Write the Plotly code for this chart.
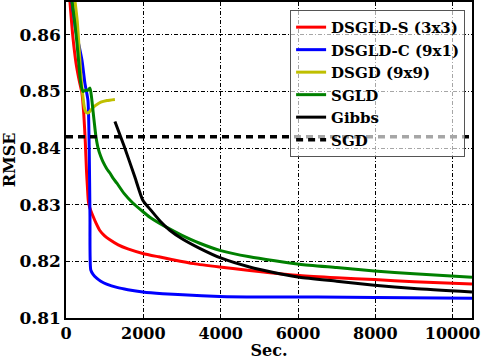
import plotly.graph_objects as go

# DSGLD-S (3x3)
dsgld_s_x = [100, 180, 260, 340, 413, 460, 500, 530, 555, 580, 619, 697, 780, 870, 1000, 1135, 1350, 1600, 1987, 2400, 2760, 3300, 3974, 4750, 6039, 7000, 7974, 9000, 10500]
dsgld_s_y = [0.866, 0.8595, 0.855, 0.852, 0.8497, 0.8460, 0.8410, 0.8360, 0.8330, 0.8305, 0.8294, 0.8280, 0.8267, 0.8255, 0.8245, 0.8238, 0.8229, 0.8222, 0.8214, 0.8208, 0.8203, 0.8196, 0.8190, 0.8184, 0.8175, 0.8171, 0.8168, 0.8164, 0.8160]

# DSGLD-C (9x1)
dsgld_c_x = [150, 260, 340, 413, 490, 568, 600, 620, 640, 700, 800, 900, 1050, 1316, 1600, 1987, 2500, 3020, 3974, 5000, 6500, 8000, 10500]
dsgld_c_y = [0.866, 0.8605, 0.858, 0.8555, 0.8514, 0.8484, 0.840, 0.828, 0.8185, 0.8177, 0.8170, 0.8165, 0.8160, 0.8154, 0.8150, 0.8146, 0.8143, 0.8141, 0.8138, 0.8137, 0.8137, 0.8136, 0.8135]

# DSGD (9x9)
dsgd_x = [232, 290, 340, 390, 439, 480, 520, 570, 619, 680, 740, 800, 900, 1058, 1265]
dsgd_y = [0.866, 0.8625, 0.8575, 0.8525, 0.8490, 0.8470, 0.8463, 0.8462, 0.8465, 0.8470, 0.8474, 0.8477, 0.8481, 0.8484, 0.8486]

# SGLD
sgld_x = [155, 230, 284, 330, 380, 440, 500, 560, 620, 660, 700, 740, 775, 830, 900, 955, 1050, 1135, 1216, 1316, 1500, 1729, 1950, 2168, 2606, 3000, 3458, 4000, 4748, 5400, 6039, 7000, 7974, 9000, 10500]
sgld_y = [0.866, 0.862, 0.8585, 0.855, 0.8515, 0.8500, 0.8502, 0.8502, 0.8506, 0.8490, 0.8465, 0.8440, 0.8420, 0.8400, 0.8385, 0.8376, 0.8364, 0.8356, 0.8347, 0.8338, 0.8320, 0.8303, 0.8290, 0.8278, 0.8260, 0.8246, 0.8232, 0.8219, 0.8208, 0.8201, 0.8195, 0.8189, 0.8183, 0.8178, 0.8172]

# Gibbs
gibbs_x = [1265, 1500, 1781, 1987, 2200, 2450, 2684, 3000, 3458, 4000, 4748, 5400, 6039, 7000, 7974, 9000, 10500]
gibbs_y = [0.8447, 0.8404, 0.8349, 0.8308, 0.8290, 0.8270, 0.8255, 0.8240, 0.8223, 0.8206, 0.8190, 0.8180, 0.8172, 0.8165, 0.8158, 0.8152, 0.8146]

# SGD baseline
sgd_x = [0, 10500]
sgd_y = [0.842, 0.842]

x_ticks = [0, 2000, 4000, 6000, 8000, 10000]
x_ticklabels = ["0", "2000", "4000", "6000", "8000", "10000"]
y_ticks = [0.81, 0.82, 0.83, 0.84, 0.85, 0.86]

serif = "DejaVu Serif"

fig = go.Figure()

series = [
    ("DSGLD-S (3x3)", dsgld_s_x, dsgld_s_y, "#ff0000", "solid"),
    ("DSGLD-C (9x1)", dsgld_c_x, dsgld_c_y, "#0000ff", "solid"),
    ("DSGD (9x9)", dsgd_x, dsgd_y, "#bfbf00", "solid"),
    ("SGLD", sgld_x, sgld_y, "#008000", "solid"),
    ("Gibbs", gibbs_x, gibbs_y, "#000000", "solid"),
    ("SGD", sgd_x, sgd_y, "#000000", "7px,5px"),
]

for name, xs, ys, color, dash in series:
    fig.add_trace(go.Scatter(
        x=xs, y=ys, name=name, mode="lines", legendgroup=name,
        line=dict(color=color, width=3.5 if name == "SGD" else 3, dash=dash, shape="spline", smoothing=0.6),
    ))

axis_common = dict(
    showline=True, linecolor="black", linewidth=1.5, mirror=True,
    showgrid=True, gridcolor="black", gridwidth=1, griddash="4px,2px,1px,2px",
    ticks="inside", tickcolor="black", ticklen=4,
    zeroline=False, automargin=False,
)

fig.update_xaxes(
    range=[0, 10500], tickvals=x_ticks, ticktext=x_ticklabels,
    tickfont=dict(family=serif, size=16, color="black", weight="bold"),
    title=dict(text="Sec.", font=dict(family=serif, size=16, color="black", weight="bold"), standoff=0),
    **axis_common,
)
fig.update_yaxes(
    range=[0.81, 0.8658], tickvals=y_ticks, tickformat=".2f",
    tickfont=dict(family=serif, size=17, color="black", weight="bold"),
    title=dict(text="RMSE", font=dict(family=serif, size=16, color="black", weight="bold"), standoff=4),
    **axis_common,
)

fig.update_layout(
    width=486, height=360,
    margin=dict(l=66, r=14, t=2, b=42),
    plot_bgcolor="white", paper_bgcolor="white",
    showlegend=True,
    legend=dict(
        x=0.983, y=0.975, xanchor="right", yanchor="top",
        bgcolor="rgba(255,255,255,0.65)", bordercolor="#555555", borderwidth=1,
        font=dict(family=serif, size=15, color="black", weight="bold"),
        tracegroupgap=0, itemwidth=30,
    ),
)

# the page body has a default 8px margin; drop it so the figure sits at the corner
fig.write_html(
    "out.html",
    config={"displayModeBar": False},
    post_script="document.body.style.margin='0px';",
)
